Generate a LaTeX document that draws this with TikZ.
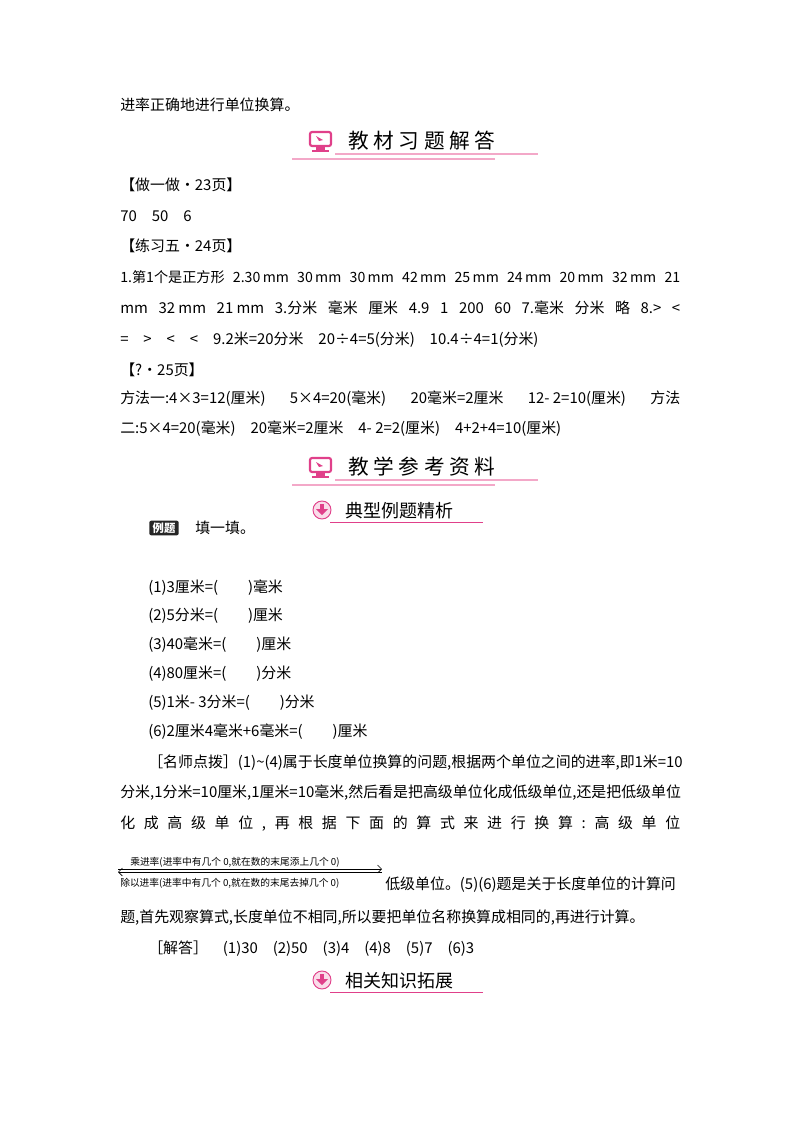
\documentclass[tikz,border=0pt]{standalone}
\usepackage{fontspec}
\setmainfont{Noto Sans CJK SC}
\usetikzlibrary{arrows.meta}
\definecolor{pk}{HTML}{E0408A}
\definecolor{pkl}{HTML}{F3A8C8}
\newcommand{\fullw}[1]{\makebox[420pt][s]{#1}}
\tikzset{
 tx/.style={anchor=base west,inner sep=0pt,font=\fontsize{11.2}{13}\selectfont},
 hd/.style={anchor=base west,inner sep=0pt,font=\fontsize{15.5}{18}\selectfont},
 sh/.style={anchor=base west,inner sep=0pt,font=\fontsize{13.5}{16}\selectfont},
 sm/.style={anchor=base west,inner sep=0pt,font=\fontsize{7.3}{8}\selectfont},
}
\begin{document}
\begin{tikzpicture}[x=0.75pt,y=-0.75pt]
\useasboundingbox (0,0) rectangle (800,1132);
\node[tx] (l0) at (120,110) {进率正确地进行单位换算。};
\foreach \hy/\ttl/\nm in {142/教\ 材\ 习\ 题\ 解\ 答/h1,468/教\ 学\ 参\ 考\ 资\ 料/h2}{
 \draw[pk,line width=1.6pt,rounded corners=1.5pt,fill=white] (310,\hy-10) rectangle (331,\hy+4);
 \fill[pk] (316,\hy+4) rectangle (325,\hy+8);
 \fill[pk] (312,\hy+8) rectangle (329,\hy+10);
 \fill[pk] (316,\hy-6) -- (323,\hy-2) -- (319,\hy-1) -- cycle;
 \draw[pkl,line width=0.8pt] (335,\hy+12) -- (538,\hy+12);
 \draw[pkl,line width=0.8pt] (292,\hy+17) -- (495,\hy+17);
 \node[hd] (\nm) at (348,\hy+6) {\ttl};
}
\node[tx] (a1) at (120,190) {【做一做·23页】};
\node[tx] (a2) at (120,221) {70\quad 50\quad 6};
\node[tx] (a3) at (120,251) {【练习五·24页】};
\node[tx,font=\fontsize{10.6}{13}\selectfont] (a4) at (120,282) {\fullw{1.第1个是正方形\hfill 2.30\,mm\hfill 30\,mm\hfill 30\,mm\hfill 42\,mm\hfill 25\,mm\hfill 24\,mm\hfill 20\,mm\hfill 32\,mm\hfill 21}};
\node[tx] (a5) at (120,313) {\fullw{mm\hfill 32 mm\hfill 21 mm\hfill 3.分米\hfill 毫米\hfill 厘米\hfill 4.9\hfill 1\hfill 200\hfill 60\hfill 7.毫米\hfill 分米\hfill 略\hfill 8.>\hfill <}};
\node[tx] (a6) at (120,344) {=\quad >\quad <\quad <\quad 9.2米=20分米\quad 20÷4=5(分米)\quad 10.4÷4=1(分米)};
\node[tx] (a7) at (120,375) {【?·25页】};
\node[tx] (a8) at (120,403) {\fullw{方法一:4×3=12(厘米)\hfill 5×4=20(毫米)\hfill 20毫米=2厘米\hfill 12- 2=10(厘米)\hfill 方法}};
\node[tx] (a9) at (120,433) {二:5×4=20(毫米)\quad 20毫米=2厘米\quad 4- 2=2(厘米)\quad 4+2+4=10(厘米)};
\foreach \sy/\st/\nm in {510/典型例题精析/s1,980/相关知识拓展/s2}{
 \draw[pk,line width=0.7pt,fill=pkl!40] (322,\sy) circle (9);
 \fill[pk] (320,\sy-6) rectangle (324,\sy) ;
 \fill[pk] (316,\sy-1) -- (328,\sy-1) -- (322,\sy+5) -- cycle;
 \draw[pk,line width=0.7pt] (330,\sy+12) -- (483,\sy+12);
 \node[sh] (\nm) at (345,\sy+7) {\st};
}
\node[fill=black!85,text=white,rounded corners=1.5pt,inner xsep=2.5pt,inner ysep=1.5pt,font=\fontsize{8.5}{9}\selectfont\bfseries] (tag) at (164,528) {例题};
\node[tx] (f0) at (195,533) {填一填。};
\node[tx] (q1) at (148,592) {(1)3厘米=(\qquad)毫米};
\node[tx] (q2) at (148,620) {(2)5分米=(\qquad)厘米};
\node[tx] (q3) at (148,649) {(3)40毫米=(\qquad)厘米};
\node[tx] (q4) at (148,678) {(4)80厘米=(\qquad)分米};
\node[tx] (q5) at (148,707) {(5)1米- 3分米=(\qquad)分米};
\node[tx] (q6) at (148,736) {(6)2厘米4毫米+6毫米=(\qquad)厘米};
\node[tx] (b1) at (148,767) {\makebox[392pt][s]{［名师点拨］\hfill (1)\textasciitilde(4)属于长度单位换算的问题,根据两个单位之间的进率,即1米=10}};
\node[tx] (b2) at (120,797) {\fullw{分米,1分米=10厘米,1厘米=10毫米,然后看是把高级单位化成低级单位,还是把低级单位}};
\node[tx] (b3) at (120,828) {\fullw{化\hfill 成\hfill 高\hfill 级\hfill 单\hfill 位\hfill ,\hfill 再\hfill 根\hfill 据\hfill 下\hfill 面\hfill 的\hfill 算\hfill 式\hfill 来\hfill 进\hfill 行\hfill 换\hfill 算\hfill :\hfill 高\hfill 级\hfill 单\hfill 位}};
\node[sm] (m1) at (130,865) {乘进率(进率中有几个 0,就在数的末尾添上几个 0)};
\node[sm] (m2) at (120,886) {除以进率(进率中有几个 0,就在数的末尾去掉几个 0)};
\coordinate (p1) at (118,869);
\coordinate (p2) at (382,869);
\coordinate (p3) at (118,872);
\coordinate (p4) at (382,872);
\draw[-{Straight Barb[length=3pt]},line width=0.5pt] (p1) -- (p2);
\draw[{Straight Barb[length=3pt]}-,line width=0.5pt] (p3) -- (p4);
\node[tx] (b4) at (385,889) {低级单位。(5)(6)题是关于长度单位的计算问};
\node[tx] (b5) at (120,922) {题,首先观察算式,长度单位不相同,所以要把单位名称换算成相同的,再进行计算。};
\node[tx] (c1) at (148,953) {［解答］\quad (1)30\quad (2)50\quad (3)4\quad (4)8\quad (5)7\quad (6)3};
\end{tikzpicture}
\end{document}
